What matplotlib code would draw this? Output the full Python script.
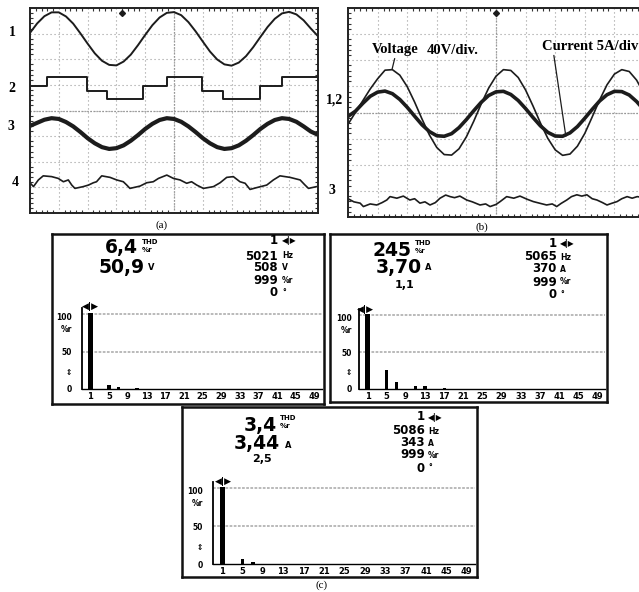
import numpy as np
import matplotlib
matplotlib.use("Agg")
import matplotlib.pyplot as plt

W, H = 639, 592

# ---------------- data (oscilloscope traces, in screen divisions) ----------------
div_u = [i * 0.25 for i in range(41)]

a_trace1 = [7.03, 7.40, 7.68, 7.83, 7.83, 7.67, 7.39, 7.01, 6.61, 6.23, 5.94, 5.78, 5.76,
            5.91, 6.18, 6.55, 6.95, 7.33, 7.63, 7.81, 7.84, 7.72, 7.45, 7.09, 6.69, 6.30,
            5.99, 5.80, 5.75, 5.87, 6.12, 6.47, 6.87, 7.26, 7.58, 7.79, 7.85, 7.75, 7.52,
            7.20, 6.90]

a_trace2_t = [0.0, 0.58, 1.97, 2.66, 3.94, 4.75, 5.96, 6.71, 7.99, 8.74, 10.0]
a_trace2_v = [4.94, 5.30, 4.78, 4.44, 4.94, 5.30, 4.78, 4.44, 4.94, 5.30, 5.30]

a_trace3 = [3.40, 3.52, 3.64, 3.70, 3.67, 3.55, 3.38, 3.16, 2.92, 2.72, 2.57, 2.50, 2.53,
            2.64, 2.82, 3.04, 3.28, 3.48, 3.63, 3.70, 3.67, 3.56, 3.38, 3.16, 2.92, 2.72,
            2.57, 2.50, 2.53, 2.64, 2.82, 3.04, 3.28, 3.48, 3.63, 3.70, 3.67, 3.56, 3.38,
            3.18, 3.05]

a_trace4_u = [0.0, 0.12, 0.29, 0.46, 0.75, 0.98, 1.16, 1.33, 1.45, 1.56, 1.85, 2.03, 2.20,
              2.31, 2.49, 2.78, 3.01, 3.24, 3.36, 3.47, 3.82, 4.05, 4.28, 4.46, 4.75, 4.98,
              5.21, 5.44, 5.61, 5.79, 6.02, 6.37, 6.60, 6.83, 7.06, 7.29, 7.47, 7.64, 7.87,
              8.22, 8.45, 8.68, 9.03, 9.38, 9.55, 9.67, 9.95, 10.0]
a_trace4_v = [1.18, 1.03, 1.29, 1.45, 1.42, 1.35, 1.22, 1.29, 1.09, 0.96, 1.03, 1.09, 1.18,
              1.22, 1.45, 1.39, 1.29, 1.22, 1.09, 0.96, 1.05, 1.18, 1.22, 1.35, 1.48, 1.35,
              1.29, 1.16, 1.22, 1.09, 0.96, 1.03, 1.18, 1.39, 1.42, 1.22, 1.16, 0.92, 0.99,
              1.09, 1.29, 1.45, 1.39, 1.29, 1.09, 0.96, 1.03, 1.03]

b_voltage = [3.55, 4.00, 4.45, 4.90, 5.29, 5.62, 5.64, 5.43, 4.99, 4.40, 3.75, 3.14, 2.66,
             2.39, 2.37, 2.61, 3.07, 3.67, 4.33, 4.93, 5.39, 5.64, 5.61, 5.34, 4.86, 4.25,
             3.60, 3.01, 2.57, 2.36, 2.41, 2.71, 3.20, 3.83, 4.48, 5.06, 5.47, 5.64, 5.57,
             5.24, 4.72]
b_current = [3.85, 4.05, 4.35, 4.62, 4.78, 4.82, 4.72, 4.50, 4.20, 3.86, 3.53, 3.27, 3.11,
             3.09, 3.19, 3.42, 3.73, 4.07, 4.39, 4.65, 4.79, 4.81, 4.69, 4.46, 4.15, 3.81,
             3.49, 3.24, 3.10, 3.09, 3.22, 3.46, 3.78, 4.12, 4.44, 4.68, 4.81, 4.80, 4.67,
             4.42, 4.10]

b_trace3_u = [0.0, 0.2, 0.41, 0.52, 0.75, 0.97, 1.15, 1.31, 1.42, 1.65, 1.87, 2.09, 2.25,
              2.43, 2.6, 2.77, 2.95, 3.11, 3.3, 3.45, 3.6, 3.78, 4.01, 4.2, 4.46, 4.65, 4.8,
              5.0, 5.14, 5.36, 5.6, 5.81, 6.05, 6.26, 6.5, 6.71, 6.9, 7.05, 7.2, 7.39, 7.55,
              7.73, 7.9, 8.07, 8.25, 8.41, 8.6, 8.75, 8.9, 9.09, 9.25, 9.43, 9.6, 9.77, 10.0]
b_trace3_v = [0.70, 0.58, 0.53, 0.40, 0.50, 0.46, 0.55, 0.65, 0.78, 0.72, 0.80, 0.65, 0.70,
              0.53, 0.58, 0.46, 0.55, 0.72, 0.84, 0.78, 0.74, 0.80, 0.65, 0.58, 0.46, 0.50,
              0.40, 0.48, 0.59, 0.78, 0.72, 0.80, 0.68, 0.59, 0.52, 0.46, 0.50, 0.40, 0.52,
              0.65, 0.78, 0.85, 0.80, 0.85, 0.70, 0.65, 0.55, 0.46, 0.52, 0.59, 0.70, 0.78,
              0.72, 0.78, 0.74]

trigger_a = 3.19
trigger_b = 5.0

# ---------------- data (harmonic spectra) ----------------
harm_ticks = [1, 5, 9, 13, 17, 21, 25, 29, 33, 37, 41, 45, 49]

spec1_h = [1, 5, 7, 11]
spec1_v = [101, 6, 3, 1.2]
spec2_h = [1, 5, 7, 11, 13, 17]
spec2_v = [101, 26, 10, 4, 3.5, 1]
spec3_h = [1, 5, 7]
spec3_v = [101, 6, 3]

spec1_big = ["6,4", "50,9"]
spec2_big = ["245", "3,70"]
spec3_big = ["3,4", "3,44"]
spec1_unit = "V"
spec2_unit = "A"
spec3_unit = "A"
spec1_sub = None
spec2_sub = "1,1"
spec3_sub = "2,5"
spec1_right = ["1", "5021", "508", "999", "0"]
spec2_right = ["1", "5065", "370", "999", "0"]
spec3_right = ["1", "5086", "343", "999", "0"]
spec1_runits = ["\u25c0|\u25b6", "Hz", "V", "%r", "\u00b0"]
spec2_runits = ["\u25c0|\u25b6", "Hz", "A", "%r", "\u00b0"]
spec3_runits = ["\u25c0|\u25b6", "Hz", "A", "%r", "\u00b0"]

# ---------------- figure ----------------
fig = plt.figure(figsize=(W / 100, H / 100), dpi=100)
fig.patch.set_facecolor("white")


def px_rect(x0, y0, x1, y1):
    return [x0 / W, 1 - y1 / H, (x1 - x0) / W, (y1 - y0) / H]


def ftext(x, y, s, **kw):
    fig.text(x / W, 1 - y / H, s, **kw)


SERIF = ["Liberation Serif", "DejaVu Serif"]
TRACE = "#1c1c1c"


def scope(x0, y0, x1, y1):
    ax = fig.add_axes(px_rect(x0, y0, x1, y1))
    ax.set_xlim(0, 10)
    ax.set_ylim(0, 8)
    ax.set_xticks(np.arange(0, 11))
    ax.set_yticks(np.arange(0, 9))
    ax.set_xticks(np.arange(0, 10.01, 0.2), minor=True)
    ax.set_yticks(np.arange(0, 8.01, 0.2), minor=True)
    ax.tick_params(which="both", direction="in", top=True, right=True,
                   labelbottom=False, labelleft=False)
    ax.tick_params(which="major", length=0)
    ax.tick_params(which="minor", length=2.5, width=0.8, color="#333333")
    ax.grid(which="major", color="#9a9a9a", lw=0.8, ls=(0, (1, 2.6)))
    ax.axhline(4, color="#888888", lw=0.9, ls=(0, (1, 1.4)))
    ax.axvline(5, color="#888888", lw=0.9, ls=(0, (1, 1.4)))
    for s in ax.spines.values():
        s.set_linewidth(1.4)
        s.set_color("#222222")
    return ax


# ----- panel (a) -----
axa = scope(30, 8, 318, 213)
axa.plot(div_u, a_trace1, color=TRACE, lw=1.4)
axa.plot(a_trace2_t, a_trace2_v, color=TRACE, lw=1.4, drawstyle="steps-post")
axa.plot(div_u, a_trace3, color=TRACE, lw=3.0)
axa.plot(a_trace4_u, a_trace4_v, color=TRACE, lw=1.2)
axa.plot([trigger_a], [7.82], marker="D", ms=3, color=TRACE)

for lbl, yy, xx in [("1", 33, 12), ("2", 88, 12), ("3", 127, 11), ("4", 182, 15)]:
    ftext(xx, yy, lbl, family=SERIF, weight="bold", fontsize=10, ha="center", va="center")
ftext(162, 225, "(a)", family=SERIF, fontsize=8, ha="center", va="center")

# ----- panel (b) -----
axb = scope(348, 8, 644, 217)
axb.plot(div_u, b_voltage, color=TRACE, lw=1.2)
axb.plot(div_u, b_current, color=TRACE, lw=2.6)
axb.plot(b_trace3_u, b_trace3_v, color=TRACE, lw=1.2)
axb.plot([trigger_b], [7.82], marker="D", ms=3, color=TRACE)
axb.annotate("Voltage", xy=(1.49, 5.66), xytext=(0.81, 6.42), family=SERIF,
             weight="bold", fontsize=10.5, va="center", ha="left",
             arrowprops=dict(arrowstyle="-", color=TRACE, lw=0.9,
                             shrinkA=0, shrinkB=0, relpos=(0.5, 0.0)))
axb.text(2.67, 6.38, "40V/div.", family=SERIF, weight="bold", fontsize=10.5,
         va="center", ha="left")
axb.annotate("Current 5A/div", xy=(7.36, 3.09), xytext=(6.55, 6.54), family=SERIF,
             weight="bold", fontsize=10.5, va="center", ha="left",
             arrowprops=dict(arrowstyle="-", color=TRACE, lw=0.9,
                             shrinkA=0, shrinkB=0, relpos=(0.12, 0.0)))
ftext(335, 100, "1,2", family=SERIF, weight="bold", fontsize=10, ha="center", va="center")
ftext(332, 190, "3", family=SERIF, weight="bold", fontsize=10, ha="center", va="center")
ftext(482, 227, "(b)", family=SERIF, fontsize=8, ha="center", va="center")
ftext(322, 585, "(c)", family=SERIF, fontsize=8, ha="center", va="center")

# ----- spectrum panels -----
layouts = [
    dict(box=(52, 234, 324, 404), big1=(138, 246), thd=(142, 242), big2=(145, 265),
         u2=(148, 268), sub=None, rx=278, rux=282, rows=[240, 256, 268, 280, 293],
         arrows=(90, 307), bar=(82, 322, 389, 314), ypad=7),
    dict(box=(330, 234, 607, 402), big1=(412, 248.5), thd=(415, 243), big2=(422, 266),
         u2=(425, 268), sub=(405, 285), rx=557, rux=560, rows=[243, 257, 269, 282, 295],
         arrows=(365, 310), bar=(359, 605, 389, 315), ypad=5),
    dict(box=(182, 407, 477, 577), big1=(277, 423.5), thd=(280, 418), big2=(280, 441.5),
         u2=(285, 445), sub=(262, 459), rx=425, rux=428, rows=[417, 431, 443, 455, 468],
         arrows=(223, 482), bar=(213, 475, 564, 488), ypad=7),
]
spectra = [
    (spec1_h, spec1_v, spec1_big, spec1_unit, spec1_sub, spec1_right, spec1_runits),
    (spec2_h, spec2_v, spec2_big, spec2_unit, spec2_sub, spec2_right, spec2_runits),
    (spec3_h, spec3_v, spec3_big, spec3_unit, spec3_sub, spec3_right, spec3_runits),
]

DIG = ["DejaVu Sans"]
for L, (hh, vv, big, unit, sub, right, runits) in zip(layouts, spectra):
    fr = fig.add_axes(px_rect(*L["box"]))
    fr.set_xticks([])
    fr.set_yticks([])
    for s in fr.spines.values():
        s.set_linewidth(1.8)
        s.set_color("#111111")

    ftext(*L["big1"], big[0], family=DIG, weight="bold", fontsize=13.5, ha="right",
          va="center_baseline")
    ftext(L["thd"][0], L["thd"][1], "THD", family=DIG, weight="bold", fontsize=5,
          ha="left", va="center")
    ftext(L["thd"][0], L["thd"][1] + 8, "%r", family=DIG, weight="bold", fontsize=5,
          ha="left", va="center")
    ftext(*L["big2"], big[1], family=DIG, weight="bold", fontsize=13.5, ha="right",
          va="center_baseline")
    ftext(*L["u2"], unit, family=DIG, weight="bold", fontsize=6, ha="left", va="center")
    if sub is not None:
        ftext(*L["sub"], sub, family=DIG, weight="bold", fontsize=8, ha="center", va="center")
    for txt, un, yy in zip(right, runits, L["rows"]):
        ftext(L["rx"], yy, txt, family=DIG, weight="bold", fontsize=8.5, ha="right", va="center")
        ftext(L["rux"], yy, un, family=DIG, weight="bold", fontsize=5.5, ha="left", va="center")
    ftext(*L["arrows"], "\u25c0|\u25b6", family=DIG, weight="bold", fontsize=6.5,
          ha="center", va="center")

    xl, xr, yb, y100 = L["bar"]
    top = yb - (yb - y100) * 1.08
    bx = fig.add_axes(px_rect(xl, top, xr, yb))
    bx.set_facecolor("none")
    bx.set_xlim(-0.8, 50.6)
    bx.set_ylim(0, 108)
    bx.axhline(100, color="#b4b4b4", lw=1.3, ls=(0, (1.5, 0.8)), zorder=1)
    bx.axhline(50, color="#b4b4b4", lw=1.3, ls=(0, (1.5, 0.8)), zorder=1)
    widths = [0.95 if h == 1 else 0.7 for h in hh]
    bx.bar(hh, vv, width=widths, color="black", zorder=3)
    bx.spines["top"].set_visible(False)
    bx.spines["right"].set_visible(False)
    bx.spines["left"].set_linewidth(1.3)
    bx.spines["bottom"].set_linewidth(1.0)
    bx.set_xticks(harm_ticks)
    bx.set_xticklabels([str(t) for t in harm_ticks], fontsize=6, weight="bold")
    bx.set_yticks([0, 23, 50, 81, 97])
    bx.set_yticklabels(["0", "\u21d5", "50", "%r", "100"], fontsize=5.5, weight="bold")
    bx.tick_params(axis="x", length=0, pad=2.5)
    bx.tick_params(axis="y", length=0, pad=L["ypad"])

fig.savefig("out.png", dpi=100, facecolor="white")
